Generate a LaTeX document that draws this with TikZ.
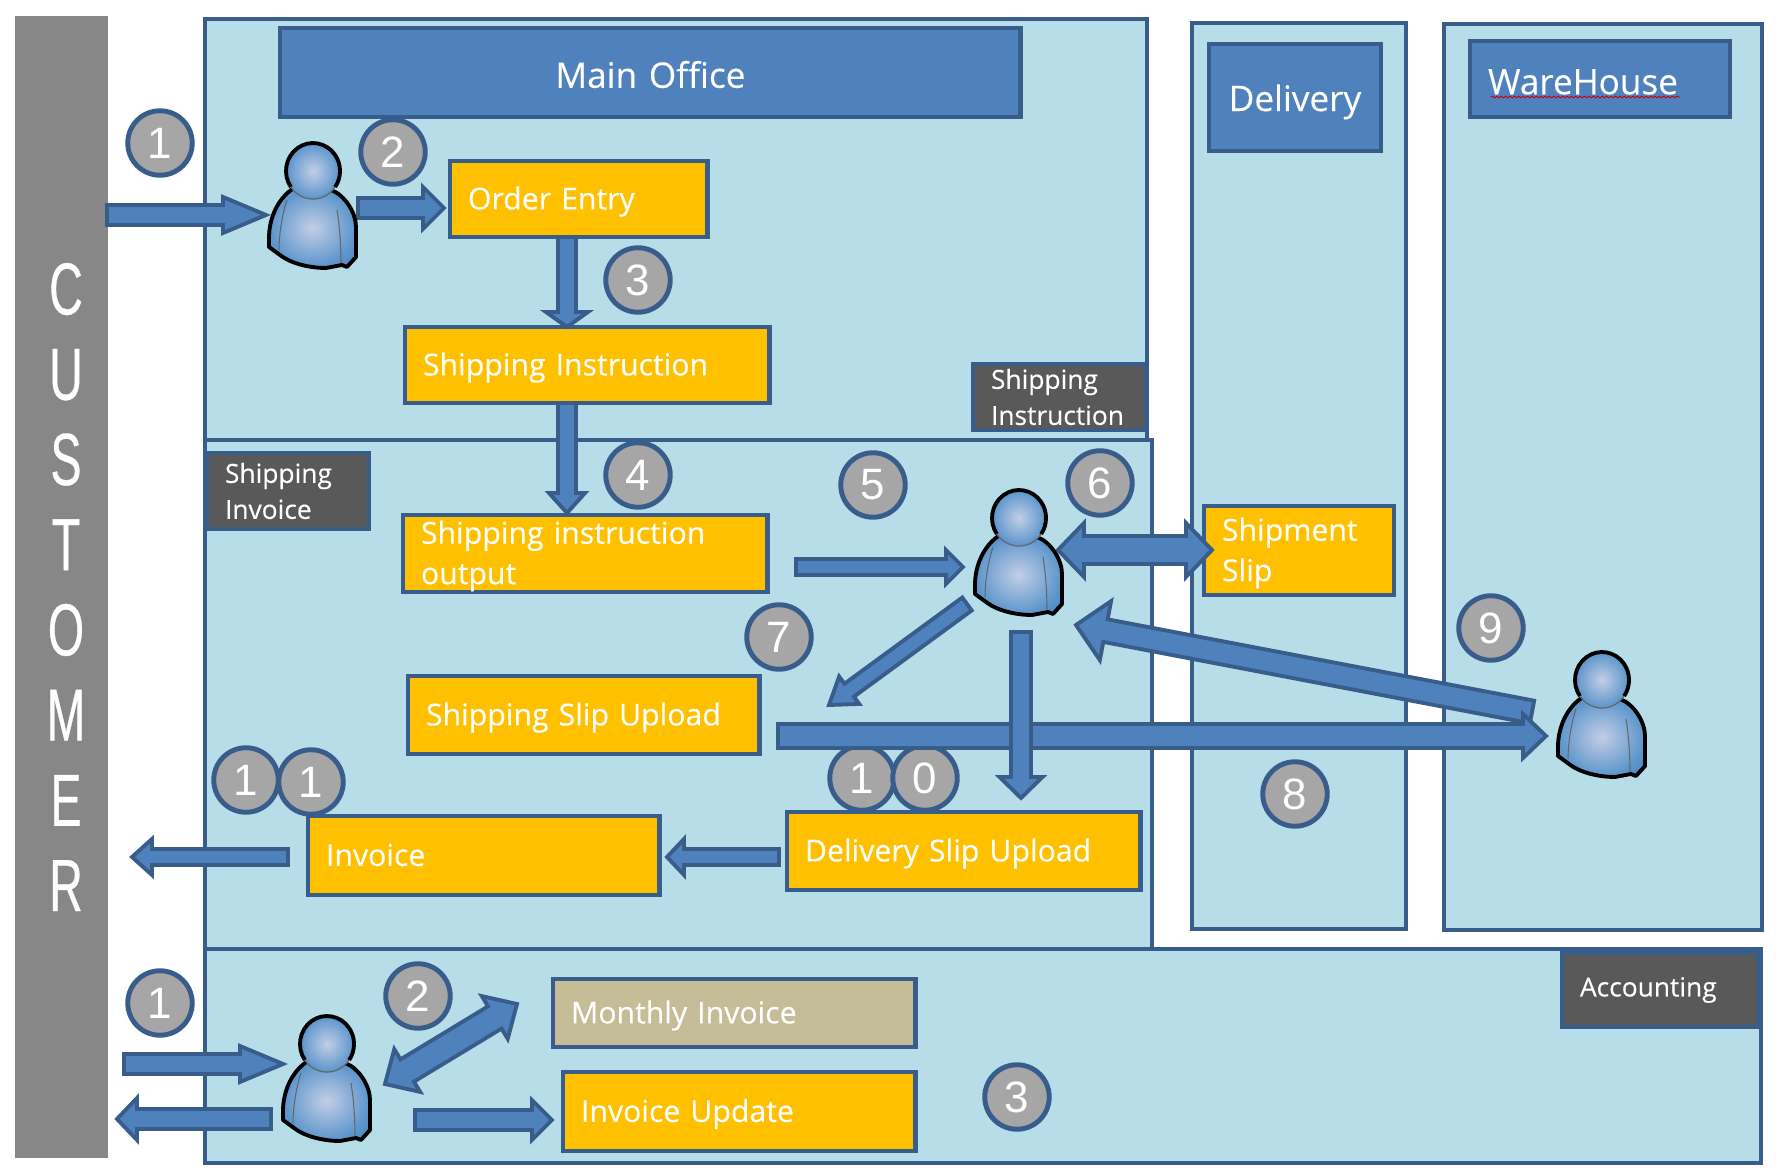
\documentclass[tikz,border=0pt]{standalone}
\usepackage{fontspec}
\setmainfont[FakeBold=0.25]{Open Sans}
\newfontfamily\digitfont{Liberation Sans}
\newfontfamily\tallfont[FakeStretch=0.63,FakeBold=0.4]{Liberation Sans}
\usetikzlibrary{calc,decorations.pathmorphing}
\definecolor{panelblue}{HTML}{B7DDE8}
\definecolor{edgeblue}{HTML}{385D8A}
\definecolor{headblue}{HTML}{4F81BD}
\definecolor{boxorange}{HTML}{FFC000}
\definecolor{boxtan}{HTML}{C4BD97}
\definecolor{boxdark}{HTML}{595959}
\definecolor{barsgray}{HTML}{878787}
\definecolor{badgegray}{HTML}{A6A6A6}
\definecolor{skinlight}{HTML}{C3CEE6}
\definecolor{skinmid}{HTML}{5E96CC}
\definecolor{skinblue}{HTML}{3A7AB8}
\pgfdeclareradialshading{personshade}{\pgfpoint{0bp}{0bp}}{color(0bp)=(skinlight); color(24bp)=(skinmid); color(42bp)=(skinblue); color(50bp)=(skinblue)}
\tikzset{
	sized/.style 2 args={anchor=north west,outer sep=0pt,text width=#1cm-.72cm,minimum height=#2cm,inner xsep=.36cm,inner ysep=0pt,align=left},
	panel/.style 2 args={anchor=north west,outer sep=0pt,minimum width=#1cm,minimum height=#2cm,draw=edgeblue,line width=2.5pt,fill=panelblue},
	headbox/.style 2 args={sized={#1}{#2},draw=edgeblue,line width=2.8pt,fill=headblue,text=white,font=\fontsize{20}{24}\selectfont,execute at begin node={\rule[-.14em]{0pt}{1.15em}}},
	orangebox/.style 2 args={sized={#1}{#2},draw=edgeblue,line width=2.8pt,fill=boxorange,text=white,font=\fontsize{17.2}{23}\selectfont,execute at begin node={\rule[-.24em]{0pt}{1.17em}}},
	tanbox/.style 2 args={orangebox={#1}{#2},fill=boxtan},
	darkbox/.style 2 args={sized={#1}{#2},draw=edgeblue,line width=2.5pt,fill=boxdark,text=white,font=\fontsize{15}{20.5}\selectfont},
	badge/.style={circle,minimum size=1.29cm,inner sep=0pt,draw=edgeblue,line width=2.8pt,fill=badgegray,text=white,font=\digitfont\fontsize{25}{25}\selectfont},
	arrowline/.style={draw=edgeblue,line width=2.2pt,fill=headblue,miter limit=4},
	person/.pic={
		\shade[shading=personshade] (-19,45) .. controls (-35,55) and (-44,75) .. (-44,95) -- (-44,104) -- (-33,112) .. controls (-20,122) and (0,125) .. (13,125) -- (29,122) -- (34,124) -- (43,114) -- (43,84) .. controls (43,70) and (32,52) .. (18,47) -- cycle;
		\draw[black,line width=2.2pt,line join=round] (-19,45) .. controls (-35,55) and (-44,75) .. (-44,95) -- (-44,104) -- (-33,112) .. controls (-20,122) and (0,125) .. (13,125) -- (29,122) -- (34,124) -- (43,114) -- (43,84) .. controls (43,70) and (32,52) .. (18,47);
		\draw[black!60,line width=.6pt] (-26,57) .. controls (-32,75) and (-34,95) .. (-34,107);
		\draw[black!60,line width=.6pt] (24,67) .. controls (27,85) and (28,105) .. (28,120);
		\shade[shading=personshade] (0,28) ellipse [x radius=27,y radius=28];
		\draw[black,line width=2.2pt] (-22.1,44.1) arc [start angle=145,end angle=395,x radius=27,y radius=28];
		\draw[black!60,line width=.7pt] (22.1,44.1) arc [start angle=35,end angle=145,x radius=27,y radius=28];
	}
}
% from, to, half shaft, half head, head length
\newcommand{\blockarrow}[5]{
	\coordinate (hb) at ($(#2)!#5!(#1)$);
	\draw[arrowline] ($(#1)!#3!90:(#2)$) -- ($(hb)!#3!90:(#2)$) -- ($(hb)!#4!90:(#2)$) -- (#2) -- ($(hb)!#4!-90:(#2)$) -- ($(hb)!#3!-90:(#2)$) -- ($(#1)!#3!-90:(#2)$) -- cycle;
}
\newcommand{\twinarrow}[5]{
	\coordinate (hb) at ($(#2)!#5!(#1)$);
	\coordinate (ha) at ($(#1)!#5!(#2)$);
	\draw[arrowline] (#1) -- ($(ha)!#4!-90:(#2)$) -- ($(ha)!#3!-90:(#2)$) -- ($(hb)!#3!90:(#1)$) -- ($(hb)!#4!90:(#1)$) -- (#2) -- ($(hb)!#4!-90:(#1)$) -- ($(hb)!#3!-90:(#1)$) -- ($(ha)!#3!90:(#2)$) -- ($(ha)!#4!90:(#2)$) -- cycle;
}
\begin{document}
\begin{tikzpicture}[x=.02cm,y=-.02cm]
	\useasboundingbox (0,0) rectangle (1776,1175);
	% customer bar
	\node[anchor=north west,outer sep=0pt,minimum width=1.86cm,minimum height=22.84cm,fill=barsgray,inner sep=0pt] (customerbar) at (15,16) {};
	\node[align=center,text=white,inner sep=0pt,font=\tallfont\fontsize{42}{48.5}\selectfont] (customer) at (66,587) {C\\U\\S\\T\\O\\M\\E\\R};
	% panels
	\node[panel={4.28}{18.12}] (deliverypanel) at (1192,23) {};
	\node[panel={6.36}{18.12}] (warehousepanel) at (1444,24) {};
	\node[panel={18.84}{8.42}] (officepanel) at (205,19) {};
	\node[panel={18.94}{10.18}] (shippingpanel) at (205,440) {};
	\node[panel={31.12}{4.28}] (accountingpanel) at (205,949) {};
	% headers
	\node[headbox={14.82}{1.78},align=center] (mainoffice) at (280,28) {Main Office};
	\node[headbox={3.44}{2.14},align=center] (delivery) at (1209,44) {Delivery};
	\node[headbox={5.2}{1.52}] (warehouse) at (1470,41) {WareHouse};
	\node[darkbox={3.46}{1.32}] (instlabel) at (973,364) {Shipping\\Instruction};
	\node[darkbox={3.24}{1.52}] (invlabel) at (207,453) {Shipping\\Invoice};
	\node[darkbox={3.92}{1.48}] (acclabel) at (1562,953) {Accounting};
	\coordinate (squigglea) at (1491,97);
	\coordinate (squiggleb) at (1680,97);
	\draw[red!80!black,line width=.5pt,decorate,decoration={snake,amplitude=.5pt,segment length=2.5pt}] (squigglea) -- (squiggleb);
	% badges
	\node[badge] (ordera) at (160,143) {1};
	\node[badge] (orderb) at (393,152) {2};
	\node[badge] (orderc) at (638,280) {3};
	\node[badge] (orderd) at (638,475) {4};
	\node[badge] (ordere) at (873,485) {5};
	\node[badge] (orderf) at (1100,483) {6};
	\node[badge] (orderg) at (779,637) {7};
	\node[badge] (orderh) at (1295,794) {8};
	\node[badge] (orderi) at (1491,628) {9};
	\node[badge] (orderja) at (862,778) {1};
	\node[badge] (orderjb) at (925,778) {0};
	\node[badge] (orderka) at (246,780) {1};
	\node[badge] (orderkb) at (311,782) {1};
	\node[badge] (billa) at (160,1003) {1};
	\node[badge] (billb) at (418,996) {2};
	\node[badge] (billc) at (1017,1097) {3};
	% boxes
	\node[orangebox={5.16}{1.52}] (orderentry) at (450,161) {Order Entry};
	\node[orangebox={7.3}{1.52}] (shipinst) at (405,327) {Shipping Instruction};
	\node[orangebox={7.3}{1.54}] (shipoutput) at (403,515) {Shipping instruction\\output};
	\node[orangebox={7.04}{1.56}] (slipupload) at (408,676) {Shipping Slip Upload};
	\node[orangebox={7.04}{1.58}] (invoice) at (308,816) {Invoice};
	\node[orangebox={7.08}{1.56}] (deliveryupload) at (787,812) {Delivery Slip Upload};
	\node[orangebox={3.8}{1.78}] (shipmentslip) at (1204,506) {Shipment\\Slip};
	\node[tanbox={7.26}{1.36}] (monthly) at (553,979) {Monthly Invoice};
	\node[orangebox={7.06}{1.58}] (invupdate) at (563,1072) {Invoice Update};
	% arrow ends
	\coordinate (custout) at (107,215);
	\coordinate (clerkin) at (266,215);
	\coordinate (clerkout) at (358,208);
	\coordinate (entryin) at (444,208);
	\coordinate (entryout) at (567,237);
	\coordinate (instin) at (567,327);
	\coordinate (instout) at (567,403);
	\coordinate (outputin) at (567,513);
	\coordinate (checkstart) at (796,567);
	\coordinate (checkend) at (963,567);
	\coordinate (slipa) at (1058,550);
	\coordinate (slipb) at (1212,550);
	\coordinate (diagstart) at (967,604);
	\coordinate (diagend) at (829,705);
	\coordinate (pickstart) at (1532,712);
	\coordinate (pickend) at (1076,625);
	\coordinate (uploadstart) at (778,736);
	\coordinate (uploadend) at (1546,736);
	\coordinate (downstart) at (1021,632);
	\coordinate (downend) at (1021,798);
	\coordinate (invstart) at (779,857);
	\coordinate (invend) at (667,857);
	\coordinate (backstart) at (288,857);
	\coordinate (backend) at (132,857);
	\coordinate (billinstart) at (124,1064);
	\coordinate (billinend) at (283,1064);
	\coordinate (billoutstart) at (271,1119);
	\coordinate (billoutend) at (117,1119);
	\coordinate (updstart) at (415,1120);
	\coordinate (updend) at (552,1120);
	\coordinate (montha) at (385,1084);
	\coordinate (monthb) at (517,1004);
	% arrows
	\blockarrow{custout}{clerkin}{.2cm}{.36cm}{.86cm}
	\blockarrow{clerkout}{entryin}{.2cm}{.42cm}{.42cm}
	\blockarrow{entryout}{instin}{.18cm}{.42cm}{.3cm}
	\blockarrow{instout}{outputin}{.18cm}{.36cm}{.4cm}
	\blockarrow{checkstart}{checkend}{.16cm}{.34cm}{.34cm}
	\twinarrow{slipa}{slipb}{.28cm}{.54cm}{.52cm}
	\blockarrow{diagstart}{diagend}{.16cm}{.34cm}{.5cm}
	\blockarrow{pickstart}{pickend}{.23cm}{.6cm}{.6cm}
	\blockarrow{uploadstart}{uploadend}{.24cm}{.44cm}{.46cm}
	\blockarrow{downstart}{downend}{.2cm}{.43cm}{.42cm}
	\blockarrow{invstart}{invend}{.16cm}{.36cm}{.34cm}
	\blockarrow{backstart}{backend}{.16cm}{.36cm}{.4cm}
	\blockarrow{billinstart}{billinend}{.2cm}{.36cm}{.86cm}
	\blockarrow{billoutstart}{billoutend}{.2cm}{.42cm}{.4cm}
	\blockarrow{updstart}{updend}{.2cm}{.4cm}{.4cm}
	\twinarrow{montha}{monthb}{.26cm}{.5cm}{.52cm}
	% people
	\pic at (313,143) {person};
	\pic at (1019,490) {person};
	\pic at (1602,652) {person};
	\pic at (327,1016) {person};
\end{tikzpicture}
\end{document}
